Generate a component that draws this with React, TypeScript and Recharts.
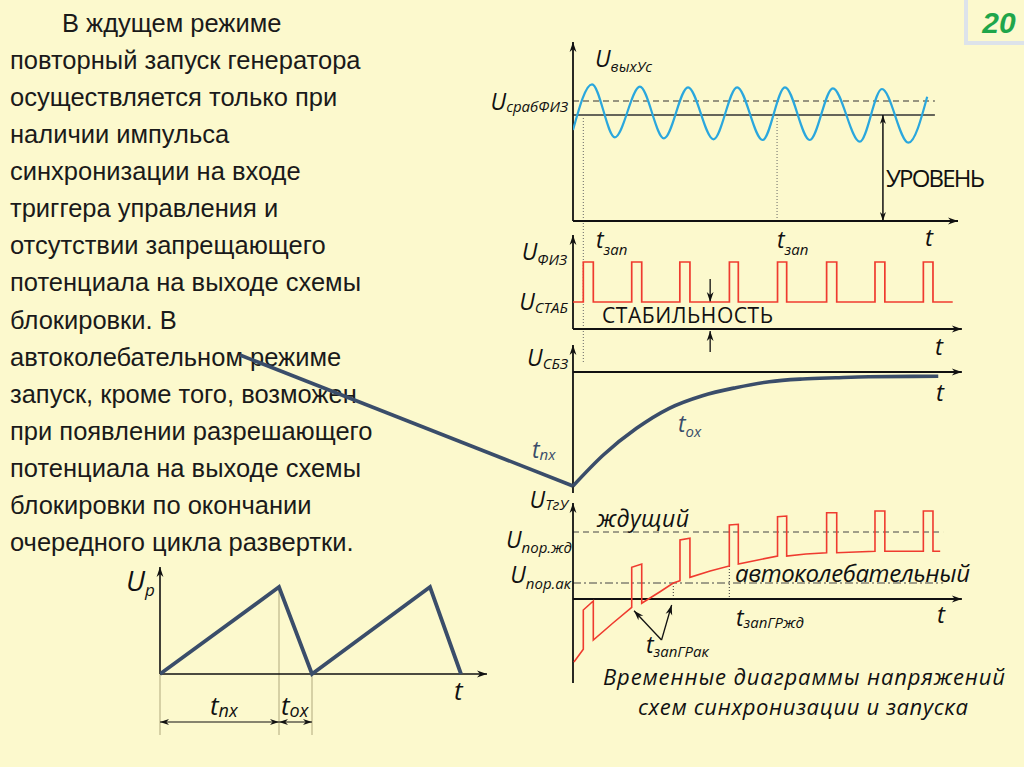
import React from 'react';
import { LineChart, Line, XAxis, YAxis, ReferenceLine } from 'recharts';

// ---------------- DATA ----------------
// Panel 1: U_выхУс (time units, voltage units)
const SINE_T = [0, 3.95, 8.7, 13.9, 18.9, 23.9, 29.2, 34.1, 39.4, 44.05, 49.2, 54.0, 59.6, 64.2, 69.7, 73.6];
const SINE_V = [9.1, 13.67, 8.37, 13.43, 8.27, 13.37, 8.17, 13.37, 8.1, 13.37, 8.1, 13.27, 7.93, 13.2, 7.83, 12.43];
const U_SRAB = 12.0;
const U_LEVEL = 10.6;
const LEVEL_END = 75.2;
const T_ZAP = [2.14, 42.4];
const T_LEVEL_ARROW = 64.4;

// Panel 2: U_ФИЗ pulses
const PULSE_RISE = [2.14, 12.2, 22.2, 32.5, 42.5, 52.7, 62.75, 72.8];
const PULSE_FALL = [4.22, 14.28, 24.3, 34.35, 44.4, 54.8, 64.8, 74.8];
const U_STAB = 2.7;
const U_PULSE = 6.7;
const FIZ_END = 78.9;
const T_STAB_ARROW = 28.5;

// Panel 3: U_СБЗ (forward ramp from the left, then the recovery curve)
const RAMP_T = [-69.2, 0];
const RAMP_V = [1.7, -11.4];
const SBZ_T = [0, 6.3, 13.2, 20.0, 26.9, 33.8, 40.8, 47.7, 54.6, 61.5, 75.9];
const SBZ_V = [-11.4, -8.3, -5.63, -3.63, -2.37, -1.57, -0.97, -0.7, -0.57, -0.47, -0.43];

// Panel 4: U_ТгУ
const TGU_T = [0.2, 2.14, 2.14, 4.22, 4.22, 8.31, 12.2, 12.2, 14.28, 14.28, 18.08, 20.84, 22.23, 22.23, 24.3, 24.3, 28.5, 32.48, 32.48, 34.35, 34.35, 38.44, 42.5, 42.5, 44.4, 44.4, 48.4, 52.7, 52.7, 54.8, 54.8, 62.75, 62.75, 64.8, 64.8, 72.8, 72.8, 74.8, 74.8, 76.3];
const TGU_V = [-6.3, -5.03, -1.1, -0.2, -4.1, -2.4, -0.83, 3.17, 3.5, -0.43, 0.73, 1.6, 1.83, 5.9, 6.07, 2.17, 2.8, 3.3, 7.4, 7.47, 3.5, 3.9, 4.3, 8.23, 8.3, 4.3, 4.5, 4.63, 8.63, 8.63, 4.63, 4.77, 8.8, 8.8, 4.77, 4.77, 8.8, 8.8, 4.77, 4.77];
const U_POR_ZHD = 6.7;
const U_POR_AK = 1.6;
const POR_END = 76.9;
const T_ZAP_AK = 20.84;
const V_ZAP_AK = 1.6;
const T_ZAP_ZHD = 32.48;
const V_ZAP_ZHD = 3.3;

// Sawtooth (bottom-left)
const SAW_T = [0, 11.9, 15.2, 27.0, 30.1];
const SAW_V = [0, 8.7, 0, 8.7, 0];

// Left paragraph
const PARA = [
  'В ждущем режиме',
  'повторный запуск генератора',
  'осуществляется только при',
  'наличии импульса',
  'синхронизации на входе',
  'триггера управления и',
  'отсутствии запрещающего',
  'потенциала на выходе схемы',
  'блокировки. В',
  'автоколебательном режиме',
  'запуск, кроме того, возможен',
  'при появлении разрешающего',
  'потенциала на выходе схемы',
  'блокировки по окончании',
  'очередного цикла развертки.',
];
const CAPTION = ['Временные диаграммы напряжений', 'схем синхронизации и запуска'];

// ---------------- STYLE ----------------
const BG = '#fcf9cd';
const AX = '#111111';
const SINE = '#2aa7dd';
const RED = '#ef3b2f';
const NAVY = '#3a4d6a';
const GUIDE = '#bdb68a';
const DIAG_FONT = "'Open Sans', 'Noto Sans', sans-serif";
const TEXT_FONT = "'Liberation Sans', Arial, sans-serif";

const sineData = SINE_T.map((t, i) => ({ t, v: SINE_V[i] }));
const fizData = [
  { t: 0, v: U_STAB },
  ...PULSE_RISE.flatMap((r, i) => [{ t: r, v: U_PULSE }, { t: PULSE_FALL[i], v: U_STAB }]),
  { t: FIZ_END, v: U_STAB },
];
const rampData = RAMP_T.map((t, i) => ({ t, v: RAMP_V[i] }));
const sbzData = SBZ_T.map((t, i) => ({ t, v: SBZ_V[i] }));
const tguData = TGU_T.map((t, i) => ({ t, v: TGU_V[i] }));
const sawData = SAW_T.map((t, i) => ({ t, v: SAW_V[i] }));

// ---------------- helpers ----------------
function head(x1: number, y1: number, x2: number, y2: number, color: string, len = 10, half = 3.4) {
  const dx = x2 - x1, dy = y2 - y1;
  const L = Math.hypot(dx, dy) || 1;
  const ux = dx / L, uy = dy / L;
  const bx = x2 - ux * len, by = y2 - uy * len;
  const nx = -uy * half, ny = ux * half;
  const mx = x2 - ux * len * 0.7, my = y2 - uy * len * 0.7;
  return <polygon points={`${x2},${y2} ${bx + nx},${by + ny} ${mx},${my} ${bx - nx},${by - ny}`} fill={color} stroke="none" />;
}
const arrowEnd = (p: any) => (
  <g>
    <line x1={p.x1} y1={p.y1} x2={p.x2} y2={p.y2} stroke={p.stroke} strokeWidth={p.strokeWidth} />
    {head(p.x1, p.y1, p.x2, p.y2, p.stroke)}
  </g>
);
const arrowBoth = (p: any) => (
  <g>
    <line x1={p.x1} y1={p.y1} x2={p.x2} y2={p.y2} stroke={p.stroke} strokeWidth={p.strokeWidth} />
    {head(p.x1, p.y1, p.x2, p.y2, p.stroke, 9, 3)}
    {head(p.x2, p.y2, p.x1, p.y1, p.stroke, 9, 3)}
  </g>
);

const M = 14;
type Box = { left: number; top: number; width: number; height: number };
function Panel({ box, xd, yd, children }: { box: Box; xd: [number, number]; yd: [number, number]; children: any }) {
  return (
    <div style={{ position: 'absolute', left: box.left - M, top: box.top - M }}>
      <LineChart width={box.width + 2 * M} height={box.height + 2 * M} margin={{ top: M, right: M, bottom: M, left: M }}>
        <XAxis type="number" dataKey="t" domain={xd} hide allowDataOverflow />
        <YAxis type="number" domain={yd} hide allowDataOverflow />
        {children}
      </LineChart>
    </div>
  );
}

function Sym({ x, y, m, s, size = 23, sub = 15, dy = 4, color = '#111', anchor = 'start' }: any) {
  return (
    <text x={x} y={y} fontFamily={DIAG_FONT} fontStyle="italic" fontSize={size} fill={color} textAnchor={anchor}>
      {m}
      {s ? <tspan fontSize={sub} dy={dy}>{s}</tspan> : null}
    </text>
  );
}

const seg = (x1: number, y1: number, x2: number, y2: number) => [{ x: x1, y: y1 }, { x: x2, y: y2 }] as any;

export default function App() {
  return (
    <div style={{ position: 'absolute', left: 0, top: 0, width: 1024, height: 767, background: BG, overflow: 'hidden' }}>
      {/* Text layer */}
      <svg width={1024} height={767} style={{ position: 'absolute', left: 0, top: 0 }}>
        {PARA.map((line, i) => (
          <text key={i} x={i === 0 ? 62 : 10} y={32 + 37.07 * i} fontFamily={TEXT_FONT} fontSize={25.5} fill="#1a1a1a">
            {line}
          </text>
        ))}
        {/* page number box */}
        <rect x={966} y={-6} width={70} height={49} fill="none" stroke="#dde3ea" strokeWidth={4} />
        <text x={999} y={33} textAnchor="middle" fontFamily={TEXT_FONT} fontWeight="bold" fontStyle="italic" fontSize={30} fill="#1fa64b">20</text>

        {/* panel 1 labels */}
        <Sym x={595} y={67} m="U" s="выхУс" dy={5} />
        <Sym x={568} y={110} m="U" s="срабФИЗ" dy={2} anchor="end" />
        <Sym x={596} y={248} m="t" s="зап" dy={7} />
        <Sym x={777} y={248} m="t" s="зап" dy={7} />
        <Sym x={925} y={246} m="t" size={24} />
        <text x={886} y={187} fontFamily={DIAG_FONT} fontSize={24} fill="#111" textLength={99}>УРОВЕНЬ</text>

        {/* panel 2 labels */}
        <Sym x={567} y={260} m="U" s="ФИЗ" dy={5} anchor="end" />
        <Sym x={568} y={310} m="U" s="СТАБ" dy={3} anchor="end" />
        <text x={602} y={323} fontFamily={DIAG_FONT} fontSize={21} fill="#111" textLength={171}>СТАБИЛЬНОСТЬ</text>
        <Sym x={935} y={355} m="t" size={24} />

        {/* panel 3 labels */}
        <Sym x={568} y={366} m="U" s="СБЗ" dy={3} anchor="end" />
        <Sym x={936} y={401} m="t" size={24} />
        <Sym x={678} y={432} m="t" s="ох" dy={5} color={NAVY} />
        <Sym x={532} y={458} m="t" s="пх" dy={2} color={NAVY} />

        {/* panel 4 labels */}
        <Sym x={568} y={508} m="U" s="ТгУ" dy={2} anchor="end" />
        <text x={597} y={527} fontFamily={DIAG_FONT} fontStyle="italic" fontSize={23} fill="#111" textLength={92}>ждущий</text>
        <Sym x={572} y={548} m="U" s="пор.жд" dy={5} anchor="end" />
        <Sym x={571} y={583} m="U" s="пор.ак" dy={6} anchor="end" />
        <text x={735} y={582} fontFamily={DIAG_FONT} fontStyle="italic" fontSize={24} fill="#111" textLength={235}>автоколебательный</text>
        <Sym x={736} y={626} m="t" s="запГРжд" dy={2} />
        <Sym x={937} y={623} m="t" size={24} />
        <Sym x={646} y={653} m="t" s="запГРак" dy={4} />

        {/* caption */}
        <text x={804} y={685} textAnchor="middle" fontFamily={DIAG_FONT} fontStyle="italic" fontSize={22} fill="#111" textLength={402}>{CAPTION[0]}</text>
        <text x={803} y={715} textAnchor="middle" fontFamily={DIAG_FONT} fontStyle="italic" fontSize={22} fill="#111" textLength={330}>{CAPTION[1]}</text>

        {/* sawtooth labels */}
        <Sym x={126} y={591} m="U" s="p" size={28} sub={17} dy={5} />
        <Sym x={210} y={715} m="t" s="пх" size={26} sub={18} dy={2} />
        <Sym x={281} y={715} m="t" s="ох" size={26} sub={18} dy={2} />
        <Sym x={454} y={700} m="t" size={26} />
      </svg>

      {/* Panel 1: U_выхУс */}
      <Panel box={{ left: 573, top: 42, width: 385, height: 323 }} xd={[0, 80]} yd={[-14.4, 17.9]}>
        <ReferenceLine segment={seg(0, U_SRAB, LEVEL_END, U_SRAB)} stroke="#333" strokeWidth={1.2} strokeDasharray="6 4" ifOverflow="visible" />
        <ReferenceLine segment={seg(0, U_LEVEL, LEVEL_END, U_LEVEL)} stroke="#333" strokeWidth={1.4} ifOverflow="visible" />
        <ReferenceLine segment={seg(T_ZAP[0], U_LEVEL, T_ZAP[0], -14.1)} stroke="#666" strokeWidth={1} strokeDasharray="1 2" ifOverflow="visible" />
        <ReferenceLine segment={seg(T_ZAP[1], U_LEVEL, T_ZAP[1], 0)} stroke="#666" strokeWidth={1} strokeDasharray="1 2" ifOverflow="visible" />
        <ReferenceLine segment={seg(T_LEVEL_ARROW, 0, T_LEVEL_ARROW, U_LEVEL)} stroke={AX} strokeWidth={1.5} ifOverflow="visible" shape={arrowBoth} />
        <ReferenceLine segment={seg(0, 0, 0, 17.9)} stroke={AX} strokeWidth={1.8} ifOverflow="visible" shape={arrowEnd} />
        <ReferenceLine segment={seg(0, 0, 80, 0)} stroke={AX} strokeWidth={1.8} ifOverflow="visible" shape={arrowEnd} />
        <Line data={sineData} dataKey="v" type="monotoneX" stroke={SINE} strokeWidth={2.2} dot={false} activeDot={false} isAnimationActive={false} />
      </Panel>

      {/* Panel 2: U_ФИЗ */}
      <Panel box={{ left: 573, top: 235, width: 385, height: 117 }} xd={[0, 80]} yd={[-2.3, 9.4]}>
        <ReferenceLine segment={seg(0, 0, 0, 9.4)} stroke={AX} strokeWidth={1.8} ifOverflow="visible" shape={arrowEnd} />
        <ReferenceLine segment={seg(0, 0, 80.8, 0)} stroke={AX} strokeWidth={1.8} ifOverflow="visible" shape={arrowEnd} />
        <ReferenceLine segment={seg(T_STAB_ARROW, 5.0, T_STAB_ARROW, U_STAB)} stroke={AX} strokeWidth={1.3} ifOverflow="visible" shape={arrowEnd} />
        <ReferenceLine segment={seg(T_STAB_ARROW, -2.3, T_STAB_ARROW, -0.2)} stroke={AX} strokeWidth={1.3} ifOverflow="visible" shape={arrowEnd} />
        <Line data={fizData} dataKey="v" type="stepAfter" stroke={RED} strokeWidth={1.7} dot={false} activeDot={false} isAnimationActive={false} />
      </Panel>

      {/* Panel 3: U_СБЗ */}
      <Panel box={{ left: 240, top: 345, width: 718, height: 148 }} xd={[-69.19, 80]} yd={[-12.1, 2.7]}>
        <ReferenceLine segment={seg(0, -12.1, 0, 2.7)} stroke={AX} strokeWidth={1.8} ifOverflow="visible" shape={arrowEnd} />
        <ReferenceLine segment={seg(0, 0, 80.8, 0)} stroke={AX} strokeWidth={1.8} ifOverflow="visible" shape={arrowEnd} />
        <Line data={rampData} dataKey="v" type="linear" stroke={NAVY} strokeWidth={3.6} dot={false} activeDot={false} isAnimationActive={false} />
        <Line data={sbzData} dataKey="v" type="monotoneX" stroke={NAVY} strokeWidth={3.6} dot={false} activeDot={false} isAnimationActive={false} />
      </Panel>

      {/* Panel 4: U_ТгУ */}
      <Panel box={{ left: 573, top: 503, width: 385, height: 180 }} xd={[0, 80]} yd={[-8.4, 9.6]}>
        <ReferenceLine segment={seg(0, U_POR_ZHD, POR_END, U_POR_ZHD)} stroke="#444" strokeWidth={1} strokeDasharray="6 4" ifOverflow="visible" />
        <ReferenceLine segment={seg(0, U_POR_AK, POR_END, U_POR_AK)} stroke="#444" strokeWidth={1} strokeDasharray="8 3 2 3" ifOverflow="visible" />
        <ReferenceLine segment={seg(T_ZAP_AK, V_ZAP_AK, T_ZAP_AK, 0)} stroke="#333" strokeWidth={1} strokeDasharray="1 2" ifOverflow="visible" />
        <ReferenceLine segment={seg(T_ZAP_ZHD, V_ZAP_ZHD, T_ZAP_ZHD, 0)} stroke="#333" strokeWidth={1} strokeDasharray="1 2" ifOverflow="visible" />
        <ReferenceLine segment={seg(0, -8.4, 0, 9.6)} stroke={AX} strokeWidth={1.8} ifOverflow="visible" shape={arrowEnd} />
        <ReferenceLine segment={seg(0, 0, 80.8, 0)} stroke={AX} strokeWidth={1.8} ifOverflow="visible" shape={arrowEnd} />
        <ReferenceLine segment={seg(18.4, -4.1, 12.68, -1.17)} stroke={AX} strokeWidth={1.3} ifOverflow="visible" shape={arrowEnd} />
        <ReferenceLine segment={seg(18.4, -4.1, 20.5, -0.6)} stroke={AX} strokeWidth={1.3} ifOverflow="visible" shape={arrowEnd} />
        <Line data={tguData} dataKey="v" type="linear" stroke={RED} strokeWidth={1.6} dot={false} activeDot={false} isAnimationActive={false} />
      </Panel>

      {/* Sawtooth U_p */}
      <Panel box={{ left: 160, top: 567, width: 327, height: 168 }} xd={[0, 32.7]} yd={[-6.1, 10.7]}>
        <ReferenceLine segment={seg(SAW_T[0], 0, SAW_T[0], -6.1)} stroke={GUIDE} strokeWidth={1.2} ifOverflow="visible" />
        <ReferenceLine segment={seg(SAW_T[1], SAW_V[1], SAW_T[1], -6.1)} stroke={GUIDE} strokeWidth={1.2} ifOverflow="visible" />
        <ReferenceLine segment={seg(SAW_T[2], 0, SAW_T[2], -6.1)} stroke={GUIDE} strokeWidth={1.2} ifOverflow="visible" />
        <ReferenceLine segment={seg(SAW_T[0], -4.8, SAW_T[1], -4.8)} stroke={AX} strokeWidth={1.2} ifOverflow="visible" shape={arrowBoth} />
        <ReferenceLine segment={seg(SAW_T[1], -4.8, SAW_T[2], -4.8)} stroke={AX} strokeWidth={1.2} ifOverflow="visible" shape={arrowBoth} />
        <ReferenceLine segment={seg(0, 0, 0, 10.7)} stroke={AX} strokeWidth={1.6} ifOverflow="visible" shape={arrowEnd} />
        <ReferenceLine segment={seg(0, 0, 32.7, 0)} stroke={AX} strokeWidth={1.6} ifOverflow="visible" shape={arrowEnd} />
        <Line data={sawData} dataKey="v" type="linear" stroke={NAVY} strokeWidth={3.8} dot={false} activeDot={false} isAnimationActive={false} />
      </Panel>
    </div>
  );
}
